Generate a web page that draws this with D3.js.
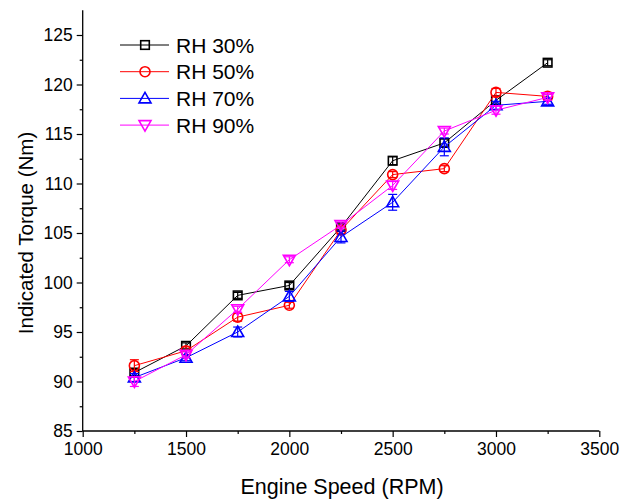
<!DOCTYPE html>
<html><head><meta charset="utf-8">
<script src="https://cdn.jsdelivr.net/npm/d3@7/dist/d3.min.js"></script>
<style>body{margin:0;background:#fff}svg{display:block;font-family:"Liberation Sans",Arial,sans-serif}</style>
</head><body><svg id="c" width="623" height="500"></svg>
<script>
const speeds = [1250, 1500, 1750, 2000, 2250, 2500, 2750, 3000, 3250];
const seriesNames = ["RH 30%", "RH 50%", "RH 70%", "RH 90%"];
const rh30 = [90.9, 93.6, 98.7, 99.7, 105.6, 112.3, 114.1, 118.4, 122.2];
const rh50 = [91.6, 93.1, 96.5, 97.7, 105.3, 110.9, 111.5, 119.2, 118.8];
const rh70 = [90.4, 92.4, 95.0, 98.6, 104.6, 108.1, 113.7, 117.9, 118.3];
const rh90 = [90.0, 92.7, 97.3, 102.3, 105.8, 109.8, 115.3, 117.4, 118.7];
const err30 = [0.3, 0.3, 0.3, 0.3, 0.3, 0.4, 0.4, 0.4, 0.3];
const err50 = [0.6, 0.4, 0.4, 0.3, 0.4, 0.3, 0.3, 0.4, 0.4];
const err70 = [0.4, 0.3, 0.5, 0.5, 0.6, 0.8, 0.9, 0.4, 0.3];
const err90 = [0.5, 0.3, 0.3, 0.3, 0.3, 0.4, 0.3, 0.4, 0.3];
const xTicks = [1000, 1500, 2000, 2500, 3000, 3500];
const yTicks = [85, 90, 95, 100, 105, 110, 115, 120, 125];
const xTitle = "Engine Speed (RPM)";
const yTitle = "Indicated Torque (Nm)";

const colors = ["#000000", "#ff0000", "#0000ff", "#ff00ff"];
const shapes = ["square", "circle", "triangle", "triangleDown"];
const values = [rh30, rh50, rh70, rh90];
const errs = [err30, err50, err70, err90];

const svg = d3.select("#c");
const x = d3.scaleLinear().domain([1000, 3500]).range([82.7, 599.3]);
const y = d3.scaleLinear().domain([85, 125]).range([431, 35]);

// axes
const ax = svg.append("g").attr("transform", `translate(0,${y(85)})`)
  .call(d3.axisBottom(x).tickValues(xTicks).tickSize(6).tickPadding(6).tickFormat(d3.format("d")));
const axm = svg.append("g").attr("transform", `translate(0,${y(85)})`)
  .call(d3.axisBottom(x).tickValues(d3.range(1250, 3500, 500)).tickSize(3).tickFormat(""));
const ay = svg.append("g").attr("transform", `translate(${x(1000)},0)`)
  .call(d3.axisLeft(y).tickValues(yTicks).tickSize(6).tickPadding(4).tickFormat(d3.format("d")));
const aym = svg.append("g").attr("transform", `translate(${x(1000)},0)`)
  .call(d3.axisLeft(y).tickValues(d3.range(87.5, 126, 5)).tickSize(3).tickFormat(""));
[ax, axm, ay, aym].forEach(g => {
  g.selectAll("path.domain").remove();
  g.selectAll("line").attr("stroke", "#000").attr("stroke-width", 1.2);
  g.selectAll("text").attr("fill", "#000").style("font-size", "17.5px").style("font-family", '"Liberation Sans",Arial,sans-serif');
});
svg.append("line").attr("x1", x(1000)).attr("x2", x(3500)).attr("y1", y(85)).attr("y2", y(85)).attr("stroke", "#000").attr("stroke-width", 1.3);
svg.append("line").attr("x1", x(1000)).attr("x2", x(1000)).attr("y1", y(85)).attr("y2", y(127.5)).attr("stroke", "#000").attr("stroke-width", 1.3);

// titles
svg.append("text").attr("x", 342).attr("y", 494).attr("text-anchor", "middle").style("font-size", "21.5px").text(xTitle);
svg.append("text").attr("transform", `translate(33,${(y(85)+y(125))/2}) rotate(-90)`).attr("text-anchor", "middle").style("font-size", "20.5px").text(yTitle);

function drawMarker(g, shape, cx, cy, color) {
  let el;
  if (shape === "square") el = g.append("rect").attr("x", cx - 4.3).attr("y", cy - 4.3).attr("width", 8.6).attr("height", 8.6);
  else if (shape === "circle") el = g.append("circle").attr("cx", cx).attr("cy", cy).attr("r", 5);
  else if (shape === "triangle") el = g.append("path").attr("d", `M${cx},${cy-6}L${cx+6},${cy+4.5}L${cx-6},${cy+4.5}Z`);
  else el = g.append("path").attr("d", `M${cx},${cy+6}L${cx+6},${cy-4.5}L${cx-6},${cy-4.5}Z`);
  el.attr("fill", "none").attr("stroke", color).attr("stroke-width", 1.6);
}

const line = d3.line().x((d, i) => x(speeds[i])).y(d => y(d));
values.forEach((vals, k) => {
  const g = svg.append("g");
  g.append("path").datum(vals).attr("d", line).attr("fill", "none").attr("stroke", colors[k]).attr("stroke-width", 1);
  vals.forEach((v, i) => {
    const cx = x(speeds[i]), e = errs[k][i];
    g.append("line").attr("x1", cx).attr("x2", cx).attr("y1", y(v - e)).attr("y2", y(v + e)).attr("stroke", colors[k]).attr("stroke-width", 1.2);
    [v - e, v + e].forEach(t => g.append("line").attr("x1", cx - 4.5).attr("x2", cx + 4.5).attr("y1", y(t)).attr("y2", y(t)).attr("stroke", colors[k]).attr("stroke-width", 1.2));
    drawMarker(g, shapes[k], cx, y(v), colors[k]);
  });
});

// legend
seriesNames.forEach((name, k) => {
  const ly = 45 + k * 26.7;
  const g = svg.append("g");
  g.append("line").attr("x1", 120).attr("x2", 169).attr("y1", ly).attr("y2", ly).attr("stroke", colors[k]).attr("stroke-width", 1);
  drawMarker(g, shapes[k], 145, ly, colors[k]);
  g.append("text").attr("x", 176).attr("y", ly + 7.5).style("font-size", "21px").text(name);
});
</script></body></html>
